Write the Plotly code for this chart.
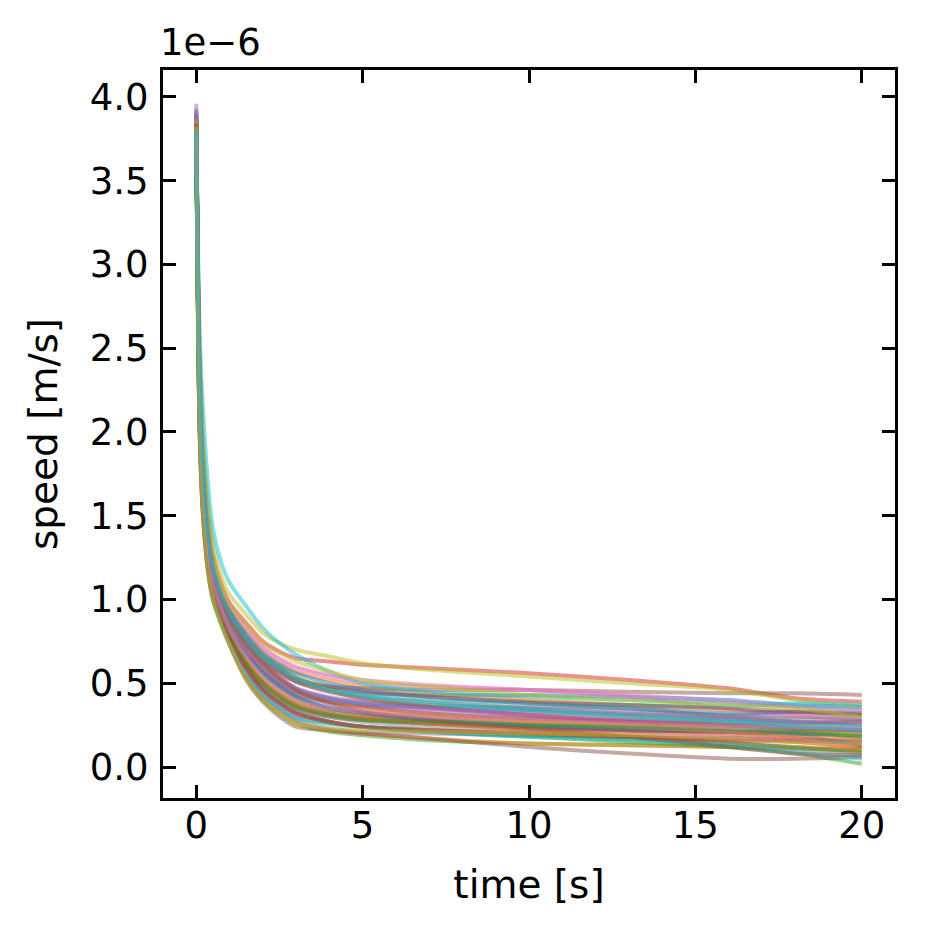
import plotly.graph_objects as go

# time samples [s]
time_s = [0, 0.1, 0.2, 0.35, 0.5, 0.75, 1, 1.5, 2, 2.5, 3, 4, 5, 7, 10, 13, 16, 18, 20]

# speed values in units of 1e-6 m/s (one array per tracked object)
s01 = [3.88, 2.31, 1.77, 1.39, 1.19, 1.03, 0.92, 0.77, 0.66, 0.59, 0.53, 0.47, 0.44, 0.43, 0.43, 0.42, 0.40, 0.37, 0.36]
s02 = [3.80, 2.38, 1.84, 1.46, 1.24, 1.05, 0.94, 0.80, 0.69, 0.62, 0.57, 0.52, 0.48, 0.44, 0.40, 0.37, 0.34, 0.32, 0.31]
s03 = [3.76, 2.18, 1.65, 1.30, 1.10, 0.95, 0.83, 0.67, 0.55, 0.47, 0.41, 0.35, 0.32, 0.30, 0.28, 0.26, 0.25, 0.23, 0.22]
s04 = [3.84, 2.42, 1.88, 1.49, 1.27, 1.09, 0.98, 0.86, 0.75, 0.69, 0.65, 0.63, 0.61, 0.59, 0.56, 0.52, 0.47, 0.41, 0.39]
s05 = [3.96, 2.26, 1.73, 1.36, 1.16, 1.00, 0.89, 0.73, 0.62, 0.54, 0.47, 0.41, 0.39, 0.37, 0.35, 0.33, 0.31, 0.30, 0.29]
s06 = [3.86, 2.30, 1.76, 1.39, 1.18, 1.00, 0.89, 0.74, 0.63, 0.56, 0.51, 0.48, 0.47, 0.46, 0.46, 0.45, 0.44, 0.44, 0.43]
s07 = [3.82, 2.34, 1.81, 1.43, 1.22, 1.06, 0.96, 0.82, 0.71, 0.64, 0.59, 0.54, 0.50, 0.48, 0.46, 0.42, 0.35, 0.31, 0.28]
s08 = [3.84, 2.21, 1.68, 1.32, 1.12, 0.97, 0.85, 0.69, 0.57, 0.49, 0.43, 0.39, 0.37, 0.36, 0.36, 0.35, 0.30, 0.27, 0.25]
s09 = [3.80, 2.50, 1.98, 1.58, 1.34, 1.14, 1.03, 0.91, 0.80, 0.74, 0.70, 0.66, 0.62, 0.58, 0.54, 0.50, 0.46, 0.40, 0.36]
s10 = [3.78, 2.60, 2.15, 1.70, 1.42, 1.22, 1.10, 0.96, 0.83, 0.74, 0.67, 0.57, 0.50, 0.45, 0.42, 0.40, 0.38, 0.36, 0.34]
s11 = [3.86, 2.13, 1.61, 1.26, 1.07, 0.92, 0.81, 0.63, 0.51, 0.43, 0.37, 0.32, 0.29, 0.26, 0.24, 0.22, 0.21, 0.20, 0.19]
s12 = [3.81, 2.20, 1.67, 1.31, 1.11, 0.93, 0.81, 0.65, 0.53, 0.45, 0.39, 0.34, 0.31, 0.28, 0.26, 0.25, 0.24, 0.22, 0.20]
s13 = [3.77, 2.01, 1.51, 1.17, 1.00, 0.85, 0.73, 0.53, 0.40, 0.32, 0.26, 0.21, 0.19, 0.16, 0.14, 0.13, 0.12, 0.11, 0.10]
s14 = [3.83, 2.26, 1.73, 1.36, 1.16, 0.97, 0.86, 0.70, 0.59, 0.51, 0.45, 0.39, 0.36, 0.32, 0.29, 0.28, 0.27, 0.26, 0.27]
s15 = [3.93, 2.19, 1.66, 1.30, 1.11, 0.96, 0.84, 0.68, 0.56, 0.48, 0.42, 0.36, 0.33, 0.29, 0.26, 0.24, 0.22, 0.21, 0.20]
s16 = [3.85, 2.15, 1.63, 1.28, 1.09, 0.90, 0.79, 0.61, 0.49, 0.41, 0.35, 0.30, 0.28, 0.26, 0.24, 0.22, 0.21, 0.20, 0.18]
s17 = [3.80, 2.24, 1.71, 1.34, 1.14, 0.99, 0.88, 0.72, 0.61, 0.53, 0.47, 0.42, 0.39, 0.35, 0.31, 0.29, 0.30, 0.33, 0.32]
s18 = [3.87, 2.12, 1.60, 1.26, 1.08, 0.93, 0.82, 0.64, 0.52, 0.44, 0.38, 0.33, 0.30, 0.27, 0.25, 0.23, 0.21, 0.20, 0.19]
s19 = [3.78, 2.21, 1.68, 1.32, 1.12, 0.94, 0.82, 0.66, 0.54, 0.46, 0.40, 0.35, 0.32, 0.29, 0.27, 0.26, 0.25, 0.23, 0.19]
s20 = [3.79, 2.32, 1.78, 1.40, 1.20, 1.02, 0.91, 0.76, 0.65, 0.58, 0.52, 0.46, 0.43, 0.40, 0.38, 0.37, 0.36, 0.38, 0.37]
s21 = [3.90, 2.08, 1.56, 1.21, 1.03, 0.89, 0.77, 0.59, 0.46, 0.38, 0.32, 0.27, 0.24, 0.21, 0.19, 0.18, 0.17, 0.16, 0.15]
s22 = [3.79, 2.03, 1.53, 1.19, 1.02, 0.86, 0.74, 0.54, 0.41, 0.33, 0.27, 0.22, 0.20, 0.17, 0.14, 0.13, 0.12, 0.11, 0.10]
s23 = [3.84, 2.10, 1.58, 1.23, 1.05, 0.88, 0.76, 0.57, 0.44, 0.36, 0.30, 0.26, 0.24, 0.21, 0.18, 0.15, 0.12, 0.08, 0.02]
s24 = [3.80, 2.14, 1.62, 1.27, 1.08, 0.91, 0.80, 0.62, 0.50, 0.42, 0.36, 0.31, 0.29, 0.26, 0.23, 0.21, 0.19, 0.17, 0.15]
s25 = [3.90, 2.04, 1.53, 1.19, 1.01, 0.87, 0.75, 0.55, 0.42, 0.34, 0.28, 0.23, 0.21, 0.20, 0.19, 0.18, 0.17, 0.16, 0.16]
s26 = [3.86, 2.00, 1.50, 1.17, 1.00, 0.86, 0.73, 0.52, 0.39, 0.30, 0.24, 0.22, 0.20, 0.17, 0.12, 0.08, 0.05, 0.05, 0.06]
s27 = [3.78, 2.09, 1.57, 1.22, 1.04, 0.88, 0.76, 0.58, 0.45, 0.37, 0.31, 0.27, 0.24, 0.22, 0.20, 0.19, 0.17, 0.16, 0.14]
s28 = [3.83, 2.24, 1.71, 1.34, 1.14, 0.96, 0.85, 0.69, 0.58, 0.50, 0.44, 0.39, 0.36, 0.32, 0.29, 0.27, 0.28, 0.27, 0.25]
s29 = [3.80, 2.33, 1.79, 1.41, 1.20, 1.04, 0.93, 0.78, 0.67, 0.60, 0.54, 0.46, 0.41, 0.37, 0.33, 0.30, 0.27, 0.25, 0.23]
s30 = [3.82, 2.27, 1.74, 1.36, 1.16, 0.98, 0.87, 0.71, 0.60, 0.52, 0.46, 0.41, 0.38, 0.36, 0.34, 0.31, 0.28, 0.26, 0.24]
s31 = [3.81, 2.35, 1.81, 1.43, 1.22, 1.03, 0.93, 0.79, 0.68, 0.61, 0.56, 0.50, 0.46, 0.42, 0.38, 0.35, 0.32, 0.33, 0.31]
s32 = [3.87, 2.15, 1.63, 1.28, 1.09, 0.92, 0.81, 0.63, 0.51, 0.43, 0.37, 0.32, 0.29, 0.26, 0.22, 0.18, 0.14, 0.12, 0.11]
s33 = [3.79, 2.07, 1.56, 1.22, 1.04, 0.90, 0.78, 0.60, 0.47, 0.39, 0.33, 0.27, 0.24, 0.22, 0.19, 0.17, 0.14, 0.12, 0.09]
s34 = [3.82, 2.29, 1.76, 1.38, 1.18, 1.01, 0.90, 0.75, 0.64, 0.57, 0.51, 0.45, 0.41, 0.36, 0.31, 0.27, 0.25, 0.23, 0.22]
s35 = [3.92, 2.23, 1.70, 1.34, 1.14, 0.99, 0.88, 0.72, 0.61, 0.53, 0.47, 0.41, 0.38, 0.35, 0.33, 0.31, 0.29, 0.27, 0.27]
s36 = [3.84, 2.30, 1.77, 1.40, 1.19, 1.03, 0.92, 0.77, 0.66, 0.59, 0.53, 0.48, 0.45, 0.42, 0.39, 0.37, 0.35, 0.33, 0.32]
s37 = [3.81, 2.37, 1.83, 1.45, 1.24, 1.07, 0.97, 0.83, 0.72, 0.65, 0.60, 0.55, 0.52, 0.49, 0.46, 0.43, 0.39, 0.36, 0.34]
s38 = [3.77, 2.12, 1.61, 1.26, 1.07, 0.89, 0.78, 0.60, 0.48, 0.40, 0.34, 0.30, 0.27, 0.24, 0.21, 0.18, 0.15, 0.11, 0.08]
s39 = [3.85, 2.44, 1.89, 1.50, 1.27, 1.08, 0.97, 0.85, 0.74, 0.68, 0.63, 0.57, 0.52, 0.48, 0.43, 0.40, 0.37, 0.35, 0.30]
s40 = [3.85, 2.06, 1.55, 1.21, 1.03, 0.86, 0.74, 0.56, 0.43, 0.35, 0.29, 0.26, 0.24, 0.21, 0.18, 0.16, 0.13, 0.09, 0.05]
s41 = [3.83, 2.19, 1.66, 1.30, 1.11, 0.96, 0.84, 0.68, 0.56, 0.48, 0.42, 0.35, 0.32, 0.28, 0.25, 0.23, 0.21, 0.19, 0.13]
s42 = [3.86, 2.25, 1.72, 1.35, 1.15, 0.98, 0.87, 0.71, 0.60, 0.52, 0.45, 0.39, 0.35, 0.31, 0.27, 0.24, 0.21, 0.18, 0.16]
s43 = [3.78, 2.13, 1.62, 1.27, 1.08, 0.91, 0.80, 0.62, 0.50, 0.42, 0.36, 0.31, 0.28, 0.27, 0.25, 0.24, 0.23, 0.21, 0.18]
s44 = [3.84, 2.08, 1.57, 1.22, 1.04, 0.89, 0.77, 0.59, 0.46, 0.38, 0.32, 0.27, 0.24, 0.22, 0.20, 0.18, 0.16, 0.15, 0.12]
s45 = [3.80, 2.23, 1.71, 1.34, 1.14, 0.97, 0.86, 0.70, 0.59, 0.51, 0.45, 0.40, 0.37, 0.34, 0.31, 0.28, 0.26, 0.24, 0.22]
s46 = [3.81, 2.27, 1.74, 1.37, 1.17, 1.00, 0.89, 0.73, 0.62, 0.53, 0.46, 0.38, 0.33, 0.28, 0.23, 0.18, 0.12, 0.08, 0.07]
s47 = [3.79, 2.18, 1.66, 1.30, 1.10, 0.94, 0.82, 0.66, 0.54, 0.46, 0.40, 0.35, 0.33, 0.30, 0.28, 0.26, 0.24, 0.24, 0.23]
s48 = [3.85, 2.30, 1.76, 1.38, 1.18, 1.01, 0.90, 0.75, 0.64, 0.57, 0.51, 0.45, 0.42, 0.39, 0.35, 0.32, 0.30, 0.29, 0.28]
s49 = [3.82, 2.02, 1.52, 1.18, 1.01, 0.85, 0.73, 0.53, 0.40, 0.32, 0.26, 0.23, 0.22, 0.21, 0.20, 0.19, 0.17, 0.15, 0.14]
s50 = [3.80, 2.31, 1.77, 1.39, 1.19, 1.03, 0.92, 0.77, 0.66, 0.59, 0.53, 0.46, 0.42, 0.38, 0.34, 0.30, 0.27, 0.24, 0.22]

speed_series = [s01, s02, s03, s04, s05, s06, s07, s08, s09, s10,
                s11, s12, s13, s14, s15, s16, s17, s18, s19, s20,
                s21, s22, s23, s24, s25, s26, s27, s28, s29, s30,
                s31, s32, s33, s34, s35, s36, s37, s38, s39, s40,
                s41, s42, s43, s44, s45, s46, s47, s48, s49, s50]

x_ticks = [0, 5, 10, 15, 20]
y_ticks = [0.0, 0.5, 1.0, 1.5, 2.0, 2.5, 3.0, 3.5, 4.0]

TAB10 = ["#1f77b4", "#ff7f0e", "#2ca02c", "#d62728", "#9467bd",
         "#8c564b", "#e377c2", "#7f7f7f", "#bcbd22", "#17becf"]

FONT = "DejaVu Sans"

fig = go.Figure()
for i, s in enumerate(speed_series):
    fig.add_trace(go.Scatter(
        x=time_s, y=s, mode="lines",
        line=dict(color=TAB10[i % 10], width=4, shape="spline", smoothing=0.8),
        opacity=0.5, showlegend=False, hoverinfo="skip",
    ))

axis_common = dict(
    showline=True, linecolor="black", linewidth=3, mirror="ticks",
    ticks="inside", ticklen=13, tickwidth=3, tickcolor="black",
    showgrid=False, zeroline=False,
    tickfont=dict(family=FONT, size=37, color="black"),
)

fig.update_xaxes(
    range=[-1, 21], tickvals=x_ticks, ticklabelstandoff=-7,
    title=dict(text="time [s]", font=dict(family=FONT, size=39, color="black"), standoff=25),
    **axis_common,
)
fig.update_yaxes(
    range=[-0.185, 4.161], tickvals=y_ticks, tickformat=".1f", ticklabelstandoff=4,
    title=dict(text="speed [m/s]", font=dict(family=FONT, size=39, color="black"), standoff=21),
    **axis_common,
)

fig.add_annotation(
    text="1e\u22126", xref="paper", yref="paper", x=0, y=1,
    xanchor="left", yanchor="bottom", showarrow=False, yshift=4, xshift=-5,
    font=dict(family=FONT, size=37, color="black"),
)

fig.update_layout(
    width=917, height=929,
    margin=dict(l=155, r=30, t=62, b=139),
    paper_bgcolor="white", plot_bgcolor="white",
    font=dict(family=FONT, color="black"),
)

fig.write_html("out.html")
